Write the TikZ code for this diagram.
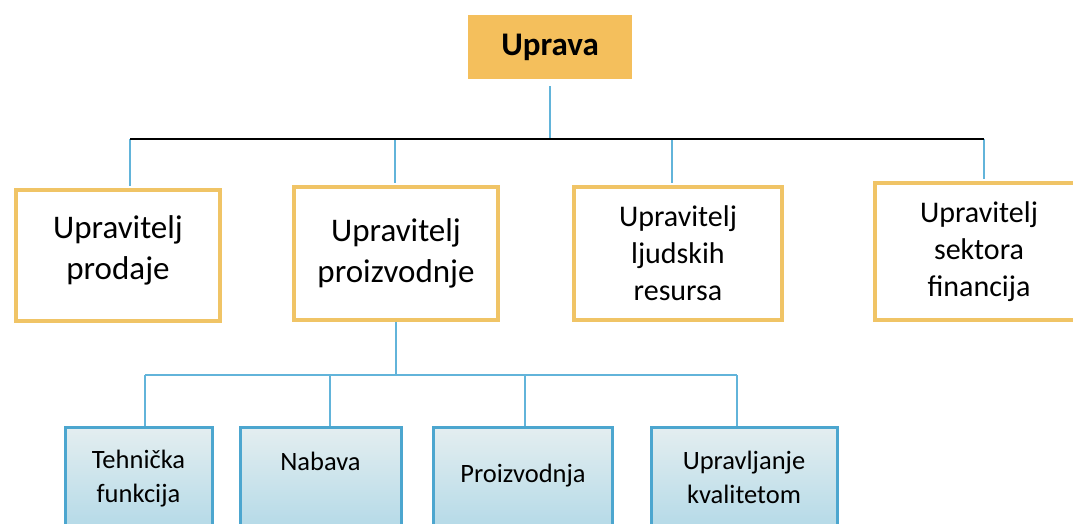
\documentclass[tikz,border=0pt]{standalone}
\usepackage{fontspec}
\setmainfont{Carlito}
\usepackage[HTML]{xcolor}
\usetikzlibrary{positioning, arrows.meta}

\definecolor{upravaorange}{HTML}{F4BF5C}
\definecolor{boxorange}{HTML}{F0C466}
\definecolor{linkblue}{HTML}{62B4DA}
\definecolor{deptblue}{HTML}{4CA6CF}
\definecolor{depttop}{HTML}{E4EEF0}
\definecolor{deptbot}{HTML}{A3D2E4}

\begin{document}
\begin{tikzpicture}[x=1pt, y=-1pt,
  headbox/.style={fill=upravaorange, draw=upravaorange, line width=1pt,
    minimum width=163pt, minimum height=63pt, font=\fontsize{33}{38}\selectfont\bfseries},
  mgrbox/.style={draw=boxorange, fill=white, line width=4pt, align=center,
    font=\fontsize{33}{41}\selectfont},
  mgrsmall/.style={mgrbox, font=\fontsize{30}{37}\selectfont},
  deptbox/.style={draw=deptblue, line width=3pt, top color=depttop, bottom color=deptbot},
  depttext/.style={align=center, font=\fontsize{26.5}{34}\selectfont},
  link/.style={draw=linkblue, line width=2pt},
  bus/.style={draw=black, line width=2.5pt}]

\useasboundingbox (0,0) rectangle (1073,524);
\clip (0,0) rectangle (1073,524);

% --- Top: Uprava ---
\node[headbox] (uprava) at (550,47.5) {Uprava};

% --- Managers ---
\node[mgrbox, minimum width=204pt, minimum height=131pt] (prodaja) at (118,255.5) {Upravitelj\\prodaje\\[-25pt]};
\node[mgrbox, minimum width=204pt, minimum height=133pt] (proizv) at (396,253.5) {Upravitelj\\proizvodnje};
\node[mgrsmall, minimum width=208pt, minimum height=133pt] (ljudski) at (678,253.5) {Upravitelj\\ljudskih\\resursa};
\node[mgrsmall, minimum width=208pt, minimum height=137pt] (financ) at (979,251.5) {Upravitelj\\sektora\\financija};

% --- top bus ---
\coordinate (busL) at (130,139);
\coordinate (busR) at (984,139);
\coordinate (d1) at (130,139);
\coordinate (d2) at (395,139);
\coordinate (d3) at (672,139);
\coordinate (d4) at (984,139);
\draw[link, shorten <=7pt] (uprava.south) -- (uprava.south |- busL);
\draw[link, shorten >=2pt] (d1) -- (d1 |- prodaja.north);
\draw[link, shorten >=2pt] (d2) -- (d2 |- proizv.north);
\draw[link, shorten >=2pt] (d3) -- (d3 |- ljudski.north);
\draw[link, shorten >=2pt] (d4) -- (d4 |- financ.north);
\draw[bus] (busL) -- (busR);

% --- Departments under proizvodnja ---
\node[deptbox, minimum width=147pt, minimum height=140pt] (tehn) at (138.5,497) {};
\node[deptbox, minimum width=161pt, minimum height=140pt] (nabava) at (320.5,497) {};
\node[deptbox, minimum width=179pt, minimum height=140pt] (proizvodnja) at (523,497) {};
\node[deptbox, minimum width=186pt, minimum height=140pt] (kvaliteta) at (744,497) {};

\node[depttext] (tehnT) at ([yshift=-53pt]tehn.north) {Tehnička\\funkcija};
\node[depttext] (nabavaT) at ([yshift=-36pt]nabava.north) {Nabava};
\node[depttext] (proizvodnjaT) at ([yshift=-50pt]proizvodnja.north) {Proizvodnja};
\node[depttext] (kvalitetaT) at ([yshift=-52pt]kvaliteta.north) {Upravljanje\\kvalitetom};

% --- lower bus ---
\coordinate (lbL) at (145,375);
\coordinate (lbR) at (737,375);
\coordinate (e1) at (145,375);
\coordinate (e2) at (330,375);
\coordinate (e3) at (525,375);
\coordinate (e4) at (737,375);
\draw[link] (proizv.south) -- (proizv.south |- lbL);
\draw[link] (lbL) -- (lbR);
\draw[link] (e1) -- (e1 |- tehn.north);
\draw[link] (e2) -- (e2 |- nabava.north);
\draw[link] (e3) -- (e3 |- proizvodnja.north);
\draw[link] (e4) -- (e4 |- kvaliteta.north);

\end{tikzpicture}
\end{document}
